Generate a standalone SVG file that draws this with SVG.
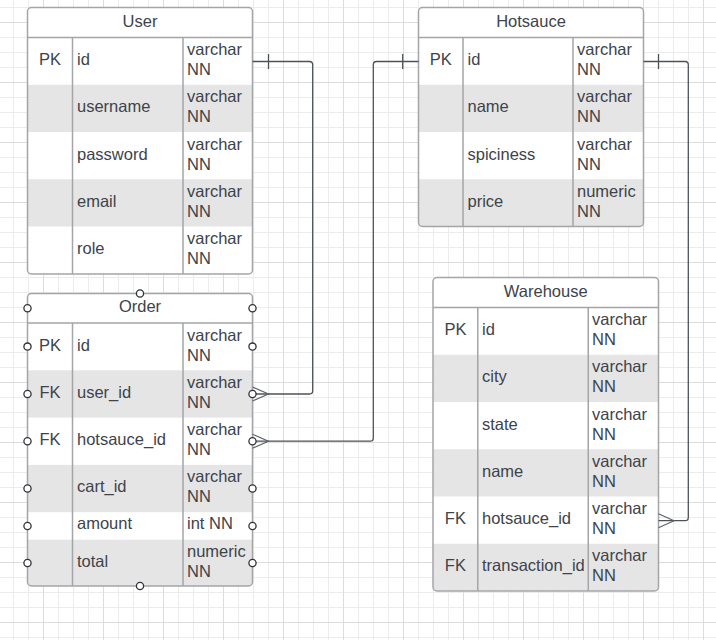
<svg xmlns="http://www.w3.org/2000/svg" width="716" height="640" viewBox="0 0 716 640">
  <defs>
    <pattern id="gridMinor" patternUnits="userSpaceOnUse" x="13" y="7" width="15" height="15">
      <rect x="0" y="0" width="1" height="15" fill="#ececec"/>
      <rect x="0" y="0" width="15" height="1" fill="#ececec"/>
    </pattern>
    <pattern id="gridMajor" patternUnits="userSpaceOnUse" x="43" y="22" width="60" height="60">
      <rect x="0" y="0" width="1" height="60" fill="#dcdcdc"/>
      <rect x="0" y="0" width="60" height="1" fill="#dcdcdc"/>
    </pattern>
    <clipPath id="clipUser"><rect x="27.5" y="7.5" width="225" height="266.5" rx="4"/></clipPath>
    <clipPath id="clipOrder"><rect x="27.5" y="293.5" width="225" height="292.5" rx="4"/></clipPath>
    <clipPath id="clipHotsauce"><rect x="418.5" y="7.5" width="225" height="219" rx="4"/></clipPath>
    <clipPath id="clipWarehouse"><rect x="433" y="277.5" width="225.5" height="313.5" rx="4"/></clipPath>
  </defs>
  <style>
    text { font-family: "Liberation Sans", Arial, sans-serif; font-size: 16.5px; fill: #3d434b; }
    .title { text-anchor: middle; }
    .key { text-anchor: middle; }
    .box { fill: #ffffff; }
    .alt { fill: #e5e5e5; }
    .frame { fill: none; stroke: #a3a5a9; stroke-width: 1.5; }
    .sep { stroke: #a3a5a9; stroke-width: 1.5; }
    .conn { fill: none; stroke: #4d5259; stroke-width: 1.3; }
    .crow { fill: none; stroke: #5a5f66; stroke-width: 1.1; }
    .handle { fill: #ffffff; stroke: #2f3338; stroke-width: 1.3; }
  </style>

  <!-- background grid -->
  <rect x="0" y="0" width="716" height="640" fill="#ffffff"/>
  <rect x="0" y="0" width="716" height="640" fill="url(#gridMinor)"/>
  <rect x="0" y="0" width="716" height="640" fill="url(#gridMajor)"/>

  <!-- User table -->
  <g id="user">
    <g clip-path="url(#clipUser)">
      <rect class="box" x="27.5" y="7.5" width="225" height="266.5"/>
      <rect class="alt" x="27.5" y="84.75" width="225" height="47.25"/>
      <rect class="alt" x="27.5" y="179.25" width="225" height="47.25"/>
    </g>
    <line class="sep" x1="27.5" y1="37.5" x2="252.5" y2="37.5"/>
    <line class="sep" x1="72.5" y1="37.5" x2="72.5" y2="274"/>
    <line class="sep" x1="183" y1="37.5" x2="183" y2="274"/>
    <rect class="frame" x="27.5" y="7.5" width="225" height="266.5" rx="4"/>
    <text class="title" x="140" y="27">User</text>
    <text class="key" x="50" y="65">PK</text>
    <text x="77" y="65">id</text>
    <text x="187" y="55">varchar</text><text x="187" y="75">NN</text>
    <text x="77" y="112.25">username</text>
    <text x="187" y="102.25">varchar</text><text x="187" y="122.25">NN</text>
    <text x="77" y="159.5">password</text>
    <text x="187" y="149.5">varchar</text><text x="187" y="169.5">NN</text>
    <text x="77" y="206.75">email</text>
    <text x="187" y="196.75">varchar</text><text x="187" y="216.75">NN</text>
    <text x="77" y="254">role</text>
    <text x="187" y="244">varchar</text><text x="187" y="264">NN</text>
  </g>

  <!-- Hotsauce table -->
  <g id="hotsauce">
    <g clip-path="url(#clipHotsauce)">
      <rect class="box" x="418.5" y="7.5" width="225" height="219"/>
      <rect class="alt" x="418.5" y="84.75" width="225" height="47.25"/>
      <rect class="alt" x="418.5" y="179.25" width="225" height="47.25"/>
    </g>
    <line class="sep" x1="418.5" y1="37.5" x2="643.5" y2="37.5"/>
    <line class="sep" x1="463" y1="37.5" x2="463" y2="226.5"/>
    <line class="sep" x1="573" y1="37.5" x2="573" y2="226.5"/>
    <rect class="frame" x="418.5" y="7.5" width="225" height="219" rx="4"/>
    <text class="title" x="531" y="27">Hotsauce</text>
    <text class="key" x="440.75" y="65">PK</text>
    <text x="467.5" y="65">id</text>
    <text x="577" y="55">varchar</text><text x="577" y="75">NN</text>
    <text x="467.5" y="112.25">name</text>
    <text x="577" y="102.25">varchar</text><text x="577" y="122.25">NN</text>
    <text x="467.5" y="159.5">spiciness</text>
    <text x="577" y="149.5">varchar</text><text x="577" y="169.5">NN</text>
    <text x="467.5" y="206.75">price</text>
    <text x="577" y="196.75">numeric</text><text x="577" y="216.75">NN</text>
  </g>

  <!-- Warehouse table -->
  <g id="warehouse">
    <g clip-path="url(#clipWarehouse)">
      <rect class="box" x="433" y="277.5" width="225.5" height="313.5"/>
      <rect class="alt" x="433" y="354.75" width="225.5" height="47.25"/>
      <rect class="alt" x="433" y="449.25" width="225.5" height="47.25"/>
      <rect class="alt" x="433" y="543.75" width="225.5" height="47.25"/>
    </g>
    <line class="sep" x1="433" y1="307.5" x2="658.5" y2="307.5"/>
    <line class="sep" x1="477.75" y1="307.5" x2="477.75" y2="591"/>
    <line class="sep" x1="588.25" y1="307.5" x2="588.25" y2="591"/>
    <rect class="frame" x="433" y="277.5" width="225.5" height="313.5" rx="4"/>
    <text class="title" x="545.75" y="297">Warehouse</text>
    <text class="key" x="455.4" y="335">PK</text>
    <text x="482" y="335">id</text>
    <text x="592" y="325">varchar</text><text x="592" y="345">NN</text>
    <text x="482" y="382.25">city</text>
    <text x="592" y="372.25">varchar</text><text x="592" y="392.25">NN</text>
    <text x="482" y="429.5">state</text>
    <text x="592" y="419.5">varchar</text><text x="592" y="439.5">NN</text>
    <text x="482" y="476.75">name</text>
    <text x="592" y="466.75">varchar</text><text x="592" y="486.75">NN</text>
    <text class="key" x="455.4" y="524">FK</text>
    <text x="482" y="524">hotsauce_id</text>
    <text x="592" y="514">varchar</text><text x="592" y="534">NN</text>
    <text class="key" x="455.4" y="571.25">FK</text>
    <text x="482" y="571.25">transaction_id</text>
    <text x="592" y="561.25">varchar</text><text x="592" y="581.25">NN</text>
  </g>

  <!-- Order table -->
  <g id="order">
    <g clip-path="url(#clipOrder)">
      <rect class="box" x="27.5" y="293.5" width="225" height="292.5"/>
      <rect class="alt" x="27.5" y="370.3" width="225" height="47.3"/>
      <rect class="alt" x="27.5" y="464.9" width="225" height="47.3"/>
      <rect class="alt" x="27.5" y="539.7" width="225" height="46.3"/>
    </g>
    <line class="sep" x1="27.5" y1="323" x2="252.5" y2="323"/>
    <line class="sep" x1="72.5" y1="323" x2="72.5" y2="586"/>
    <line class="sep" x1="183" y1="323" x2="183" y2="586"/>
    <rect class="frame" x="27.5" y="293.5" width="225" height="292.5" rx="4"/>
    <text class="title" x="140" y="312">Order</text>
    <text class="key" x="50" y="350.5">PK</text>
    <text x="77" y="350.5">id</text>
    <text x="187" y="340.5">varchar</text><text x="187" y="360.5">NN</text>
    <text class="key" x="50" y="397.8">FK</text>
    <text x="77" y="397.8">user_id</text>
    <text x="187" y="387.8">varchar</text><text x="187" y="407.8">NN</text>
    <text class="key" x="50" y="445.1">FK</text>
    <text x="77" y="445.1">hotsauce_id</text>
    <text x="187" y="435.1">varchar</text><text x="187" y="455.1">NN</text>
    <text x="77" y="492.4">cart_id</text>
    <text x="187" y="482.4">varchar</text><text x="187" y="502.4">NN</text>
    <text x="77" y="529">amount</text>
    <text x="187" y="529">int NN</text>
    <text x="77" y="566.7">total</text>
    <text x="187" y="557.3">numeric</text><text x="187" y="577">NN</text>
    <!-- connection handles -->
    <circle class="handle" cx="140" cy="293.5" r="3.6"/>
    <circle class="handle" cx="140" cy="586" r="3.6"/>
    <circle class="handle" cx="27.5" cy="308.2" r="3.6"/>
    <circle class="handle" cx="27.5" cy="346.6" r="3.6"/>
    <circle class="handle" cx="27.5" cy="394" r="3.6"/>
    <circle class="handle" cx="27.5" cy="441.2" r="3.6"/>
    <circle class="handle" cx="27.5" cy="488.5" r="3.6"/>
    <circle class="handle" cx="27.5" cy="526" r="3.6"/>
    <circle class="handle" cx="27.5" cy="563" r="3.6"/>
    <circle class="handle" cx="252.5" cy="308.2" r="3.6"/>
    <circle class="handle" cx="252.5" cy="346.6" r="3.6"/>
    <circle class="handle" cx="252.5" cy="526" r="3.6"/>
    <circle class="handle" cx="252.5" cy="488.5" r="3.6"/>
    <circle class="handle" cx="252.5" cy="563" r="3.6"/>
  </g>

  <!-- relationships -->
  <g id="connectors">
    <!-- User.id 1 : N Order.user_id -->
    <path class="conn" d="M252.5 61.5 H309.5 Q312.7 61.5 312.7 64.7 V390.8 Q312.7 394 309.5 394 H252.5"/>
    <path class="conn" d="M268.5 54 V69"/>
    <path class="crow" d="M252.5 387 L268.5 394 L252.5 401"/>
    <!-- Hotsauce.id 1 : N Order.hotsauce_id -->
    <path class="conn" d="M418.5 61.5 H376.5 Q373.3 61.5 373.3 64.7 V438 Q373.3 441.2 370.1 441.2 H252.5"/>
    <path class="conn" d="M402.7 54 V69"/>
    <path class="crow" d="M252.5 434.2 L268.5 441.2 L252.5 448.2"/>
    <!-- Hotsauce.id 1 : N Warehouse.hotsauce_id -->
    <path class="conn" d="M643.5 61.5 H685.1 Q688.3 61.5 688.3 64.7 V517.5 Q688.3 520.7 685.1 520.7 H658.5"/>
    <path class="conn" d="M658.5 54 V69"/>
    <path class="crow" d="M658.5 513.7 L674 520.7 L658.5 527.7"/>
    <!-- handles sitting on the connector ends -->
    <circle class="handle" cx="252.5" cy="394" r="3.6"/>
    <circle class="handle" cx="252.5" cy="441.2" r="3.6"/>
  </g>
</svg>
